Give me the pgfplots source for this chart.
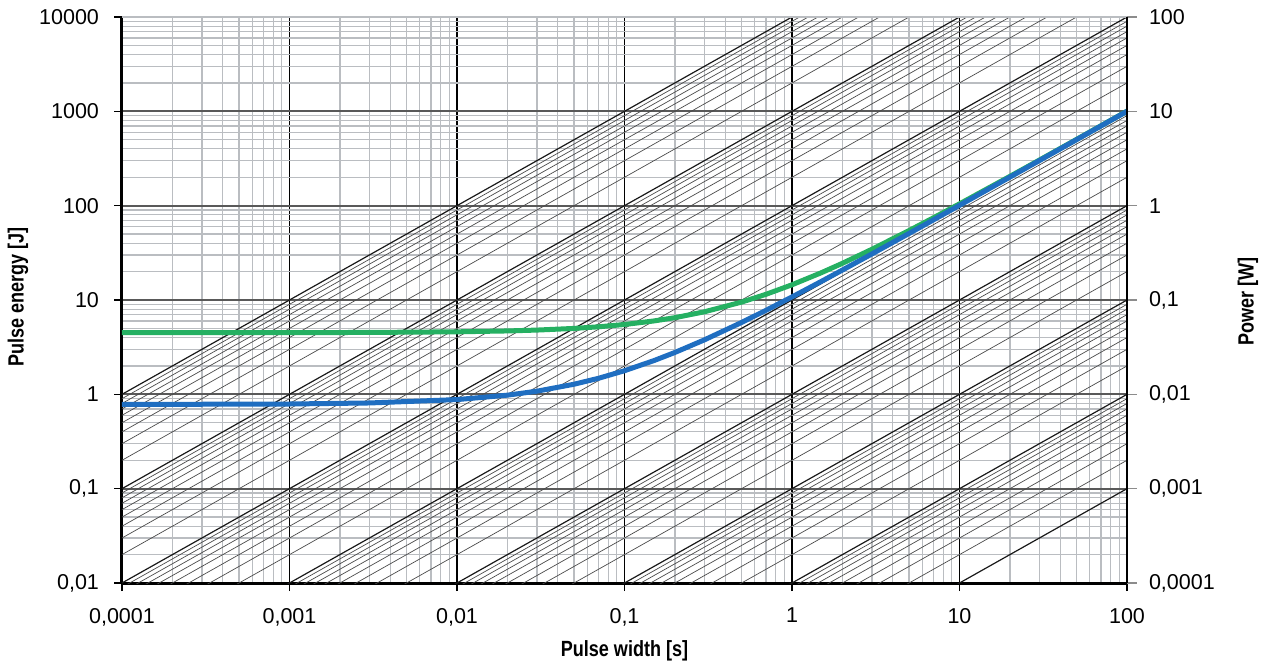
\documentclass[border=0pt]{standalone}
\usepackage{fontspec}
\setmainfont{Liberation Sans}
\newfontfamily\titlefont[FakeStretch=0.82]{Liberation Sans}
\usepackage{pgfplots}
\pgfplotsset{compat=1.18}
\definecolor{cblue}{HTML}{1F6EC1}
\definecolor{cgreen}{HTML}{25B062}
\definecolor{mgrid}{HTML}{BABDC1}
\definecolor{diagmin}{HTML}{4A4A4A}
\pgfplotsset{
  diagmajor/.style={line width=0.6pt, color=black!90, forget plot},
  diagminor/.style={line width=0.35pt, color=diagmin, forget plot},
}
\begin{document}
\begin{tikzpicture}[x=1pt,y=1pt]
\path[use as bounding box] (-61,-41.5) rectangle (573.5,291.5);
\begin{axis}[
  scale only axis, width=502.5pt, height=283pt,
  xmode=log, ymode=log,
  xmin=1e-4, xmax=100, ymin=0.01, ymax=10000,
  axis lines*=left,
  axis line style={-, line width=1.5pt, black},
  xtick={1e-4,1e-3,0.01,0.1,1,10,100},
  xticklabels={{0,0001},{0,001},{0,01},{0,1},{1},{10},{100}},
  ytick={0.01,0.1,1,10,100,1000,10000},
  yticklabels={{0,01},{0,1},{1},{10},{100},{1000},{10000}},
  grid=both,
  major x grid style={black, line width=0.6pt},
  major y grid style={black!65, line width=0.9pt},
  minor grid style={mgrid, line width=0.6pt},
  tick style={black, line width=0.8pt},
  major tick length=4pt, minor tick length=0pt,
  tick align=outside,
  tick label style={font=\fontsize{10.75}{12}\selectfont},
  yticklabel shift=4pt, xticklabel shift=5pt,
  xlabel={Pulse width [s]},
  ylabel={Pulse energy [J]},
  every axis x label/.style={at={(axis description cs:0.5,-0.120)}, anchor=center, font=\titlefont\bfseries\fontsize{11}{13}\selectfont},
  every axis y label/.style={at={(axis description cs:-0.1035,0.505)}, anchor=center, rotate=90, font=\titlefont\bfseries\fontsize{11}{13}\selectfont},
]
% constant-power reference lines E = P t, P from 1e-3 to 1e4 W
\foreach \e in {-3,...,4}{
  \pgfmathtruncatemacro\ea{\e-4}
  \pgfmathtruncatemacro\eb{\e+2}
  \edef\tmp{\noexpand\addplot[diagmajor] coordinates {(1e-4,1e\ea) (1e2,1e\eb)};}
  \tmp
}
\foreach \e in {-3,...,3}{
  \foreach \k in {2,...,9}{
    \pgfmathtruncatemacro\ea{\e-4}
    \pgfmathtruncatemacro\eb{\e+2}
    \edef\tmp{\noexpand\addplot[diagminor] coordinates {(1e-4,\k e\ea) (1e2,\k e\eb)};}
    \tmp
  }
}
% green curve
\addplot[cgreen, line width=2.5pt] coordinates {
 (0.0001,4.5) (0.001,4.51) (0.003,4.53) (0.01,4.6) (0.02,4.7) (0.03,4.8)
 (0.05,5.0) (0.07,5.2) (0.1,5.5) (0.15,6.0) (0.2,6.5) (0.3,7.5) (0.5,9.5)
 (0.7,11.5) (1,14.5) (1.5,19.5) (2,24.5) (3,34.5) (5,54.5) (7,74.5)
 (10,104.5) (20,204.5) (30,304.5) (50,504.5) (70,704.5) (100,1004.5)};
% blue curve
\addplot[cblue, line width=2.5pt] coordinates {
 (0.0001,0.781) (0.001,0.79) (0.003,0.81) (0.01,0.88) (0.02,0.98) (0.03,1.08)
 (0.05,1.28) (0.07,1.48) (0.1,1.78) (0.15,2.28) (0.2,2.78) (0.3,3.78) (0.5,5.78)
 (0.7,7.78) (1,10.78) (1.5,15.78) (2,20.78) (3,30.78) (5,50.78) (7,70.78)
 (10,100.78) (20,200.78) (30,300.78) (50,500.78) (70,700.78) (100,1000.78)};
\end{axis}
\begin{axis}[
  scale only axis, width=502.5pt, height=283pt,
  xmode=log, ymode=log,
  xmin=1e-4, xmax=100, ymin=1e-4, ymax=100,
  axis x line*=top, axis y line*=right,
  x axis line style={-, mgrid, line width=0.8pt},
  y axis line style={-, black, line width=0.8pt},
  xtick=\empty,
  ytick={1e-4,1e-3,0.01,0.1,1,10,100},
  yticklabels={{0,0001},{0,001},{0,01},{0,1},{1},{10},{100}},
  tick style={black!45, line width=0.8pt},
  major tick length=5pt, minor tick length=0pt,
  tick align=outside,
  tick label style={font=\fontsize{10.75}{12}\selectfont},
  yticklabel shift=2.5pt,
  ylabel={Power [W]},
  every axis y label/.style={at={(axis description cs:1.1204,0.498)}, anchor=center, rotate=90, font=\titlefont\bfseries\fontsize{11}{13}\selectfont},
]
\end{axis}
\end{tikzpicture}
\end{document}
